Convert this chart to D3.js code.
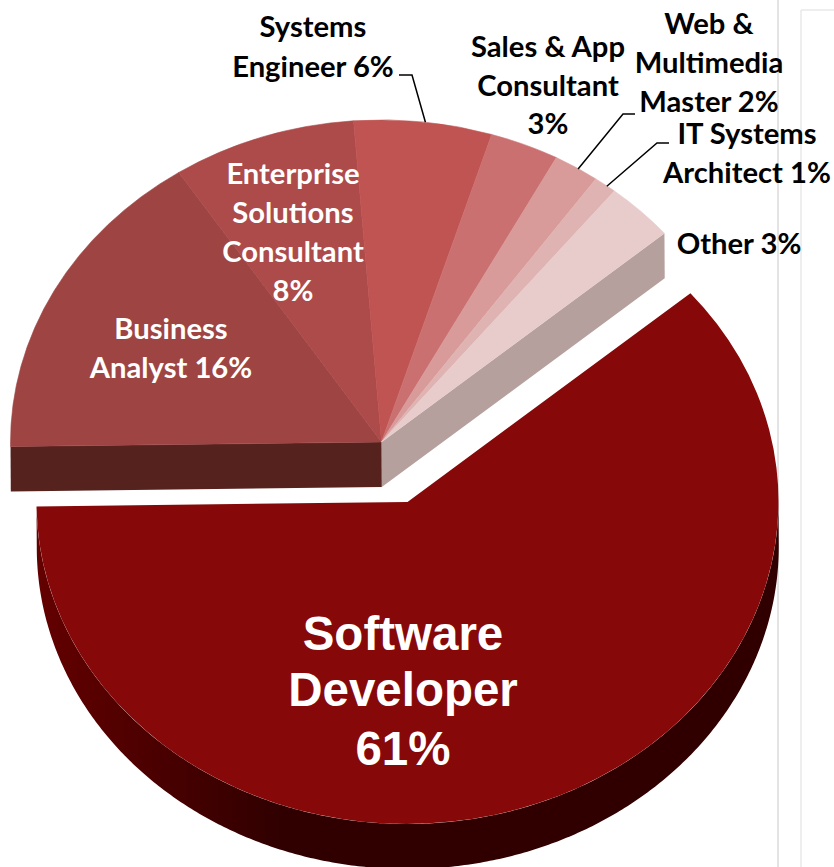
<!DOCTYPE html>
<html>
<head>
<meta charset="utf-8">
<script src="https://d3js.org/d3.v7.min.js"></script>
<style>
  html, body { margin: 0; padding: 0; background: #fff; overflow: hidden; }
  svg { display: block; }
  text { font-family: Lato, sans-serif; font-weight: 700; text-anchor: middle; }
</style>
</head>
<body>
<svg id="chart" width="834" height="867"></svg>
<script>
// chart values
const categories = ["Software Developer", "Business Analyst", "Enterprise Solutions Consultant", "Systems Engineer", "Sales & App Consultant", "Web & Multimedia Master", "IT Systems Architect", "Other"];
const shares = [61, 16, 8, 6, 3, 2, 1, 3];
const sliceColors = ["#860808", "#9e4443", "#ad4a4a", "#bf5452", "#cb7070", "#d99a9a", "#e0b3b3", "#e8cccc"];

const DEG = Math.PI / 180;
const width = 834, height = 867;
const rx = 371, ry = 322, depth = 45, tilt = -0.35;
const center = { x: 381.5, y: 442 };
const bigCenter = { x: 407.5, y: 502 };

const svg = d3.select("#chart");

// wall of the big slice is lit from the left
const wallGrad = svg.append("defs").append("linearGradient")
  .attr("id", "wallGrad")
  .attr("gradientUnits", "userSpaceOnUse")
  .attr("x1", 36).attr("x2", 280).attr("y1", 0).attr("y2", 0);
wallGrad.append("stop").attr("offset", 0).attr("stop-color", "#640000");
wallGrad.append("stop").attr("offset", 1).attr("stop-color", "#300000");

// faint frame lines behind the chart
svg.append("line").attr("x1", 778).attr("x2", 778).attr("y1", 0).attr("y2", height).attr("stroke", "#c8c8c8");
svg.append("line").attr("x1", 801).attr("x2", 801).attr("y1", 10).attr("y2", height).attr("stroke", "#dddddd");
svg.append("line").attr("x1", 801).attr("x2", width).attr("y1", 10).attr("y2", 10).attr("stroke", "#dddddd");

const pie = d3.pie().sort(null).value((d) => d).startAngle(50 * DEG).endAngle(410 * DEG);
const arcs = pie(shares);
const arc = d3.arc().innerRadius(0).outerRadius(1);

// point on the squashed pie rim, angle in radians from 12 o'clock
function rim(c, a) {
  return [c.x + rx * Math.sin(a), c.y - ry * Math.cos(a)];
}

function place(c) {
  return "translate(" + c.x + "," + c.y + ") rotate(" + tilt + ") scale(" + rx + "," + ry + ")";
}

function tiltGroup(c) {
  return svg.append("g").attr("transform", "rotate(" + tilt + "," + c.x + "," + c.y + ")");
}

const line = d3.line();

// small slices: only the two cut faces show
const back = tiltGroup(center);
const first = arcs[1];
const last = arcs[arcs.length - 1];
const leftEdge = rim(center, first.startAngle);
const rightEdge = rim(center, last.endAngle);
const c0 = [center.x, center.y];
back.append("path")
  .attr("d", line([c0, rightEdge, [rightEdge[0], rightEdge[1] + depth], [c0[0], c0[1] + depth]]) + "Z")
  .attr("fill", "#b5a09e");
back.append("path")
  .attr("d", line([c0, leftEdge, [leftEdge[0], leftEdge[1] + depth], [c0[0], c0[1] + depth]]) + "Z")
  .attr("fill", "#55221e");

// thin own-colour stroke hides the seams between slices
svg.append("g").attr("transform", place(center))
  .selectAll("path")
  .data(arcs.slice(1))
  .enter()
  .append("path")
  .attr("d", arc)
  .attr("fill", (d) => sliceColors[d.index])
  .attr("stroke", (d) => sliceColors[d.index])
  .attr("stroke-width", 0.6)
  .attr("vector-effect", "non-scaling-stroke");

// big slice: outer wall along the front of the rim, then the top
const big = arcs[0];
const wallAngles = d3.range(big.startAngle, big.endAngle, DEG / 2).filter((a) => a >= 90 * DEG).concat([big.endAngle]);
const wallTop = wallAngles.map((a) => rim(bigCenter, a));
const wallBottom = wallTop.map((p) => [p[0], p[1] + depth]).reverse();
tiltGroup(bigCenter).append("path")
  .attr("d", line(wallTop.concat(wallBottom)) + "Z")
  .attr("fill", "url(#wallGrad)");

svg.append("g").attr("transform", place(bigCenter))
  .append("path")
  .datum(big)
  .attr("d", arc)
  .attr("fill", sliceColors[0]);

// leader lines run from the rim at the slice's mid angle to an elbow by the label
const leaders = [
  { index: 3, elbow: [412, 75], end: [399, 75] },
  { index: 5, elbow: [623, 114], end: [635, 114] },
  { index: 6, elbow: [657, 143], end: [669, 143] }
];
leaders.forEach((l) => {
  const d = arcs[l.index];
  svg.append("path")
    .attr("d", line([rim(center, (d.startAngle + d.endAngle) / 2), l.elbow, l.end]))
    .attr("fill", "none")
    .attr("stroke", "#000")
    .attr("stroke-width", 1.5);
});

// labels, one entry per printed line
const labels = [
  { x: 403, ys: [650, 706, 765], lines: ["Software", "Developer", "61%"], fill: "#fff", size: 47.5, family: "'Liberation Sans', Arial, sans-serif" },
  { x: 171, ys: [339, 378], lines: ["Business", "Analyst 16%"], fill: "#fff" },
  { x: 293, ys: [184, 223, 262, 301], lines: ["Enterprise", "Solutions", "Consultant", "8%"], fill: "#fff" },
  { x: 313, ys: [37, 77], lines: ["Systems", "Engineer 6%"], fill: "#000" },
  { x: 548, ys: [57, 96, 134], lines: ["Sales & App", "Consultant", "3%"], fill: "#000" },
  { x: 709, ys: [34, 73, 112], lines: ["Web &", "Multimedia", "Master 2%"], fill: "#000" },
  { x: 747, ys: [144, 183], lines: ["IT Systems", "Architect 1%"], fill: "#000" },
  { x: 739, ys: [254], lines: ["Other 3%"], fill: "#000" }
];
labels.forEach((l) => {
  l.lines.forEach((t, i) => {
    const txt = svg.append("text")
      .attr("x", l.x)
      .attr("y", l.ys[i])
      .attr("fill", l.fill)
      .attr("font-size", l.size || 29.2)
      .text(t);
    if (l.family) txt.style("font-family", l.family);
  });
});
</script>
</body>
</html>
